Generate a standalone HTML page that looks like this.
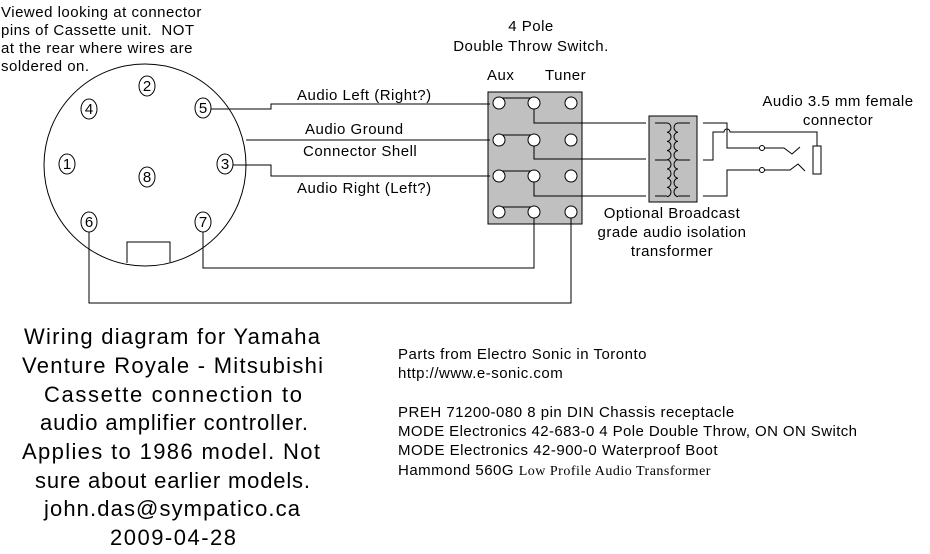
<!DOCTYPE html>
<html><head><meta charset="utf-8"><style>
html,body{margin:0;padding:0;background:#fff;}
svg{display:block;font-family:"Liberation Sans",sans-serif;}
.s{font-size:15px;letter-spacing:0.5px;}
</style></head><body>
<svg width="930" height="554" viewBox="0 0 930 554" xmlns="http://www.w3.org/2000/svg">
<g class="s" fill="#000">
<text x="1" y="17">Viewed looking at connector</text>
<text x="1" y="35" xml:space="preserve">pins of Cassette unit.  NOT</text>
<text x="1" y="53">at the rear where wires are</text>
<text x="1" y="71">soldered on.</text>
<text x="531" y="31" text-anchor="middle">4 Pole</text>
<text x="531" y="51" text-anchor="middle">Double Throw Switch.</text>
<text x="487" y="80">Aux</text>
<text x="545" y="80">Tuner</text>
<text x="838" y="106" text-anchor="middle">Audio 3.5 mm female</text>
<text x="838" y="125" text-anchor="middle">connector</text>
<text x="297" y="100">Audio Left (Right?)</text>
<text x="305" y="134">Audio Ground</text>
<text x="303" y="156">Connector Shell</text>
<text x="297" y="193">Audio Right (Left?)</text>
<text x="672" y="218" text-anchor="middle">Optional Broadcast</text>
<text x="672" y="237" text-anchor="middle">grade audio isolation</text>
<text x="672" y="256" text-anchor="middle">transformer</text>
<text x="398" y="359">Parts from Electro Sonic in Toronto</text>
<text x="398" y="378">http://www.e-sonic.com</text>
<text x="398" y="417">PREH 71200-080 8 pin DIN Chassis receptacle</text>
<text x="398" y="436" textLength="459" style="letter-spacing:0">MODE Electronics 42-683-0 4 Pole Double Throw, ON ON Switch</text>
<text x="398" y="455">MODE Electronics 42-900-0 Waterproof Boot</text>
<text x="398" y="475">Hammond 560G <tspan font-family="Liberation Serif,serif" font-size="14">Low Profile Audio Transformer</tspan></text>
</g>
<g font-size="22" xml:space="preserve">
<text x="24" y="344" textLength="296">Wiring diagram for Yamaha</text>
<text x="22" y="373" textLength="301">Venture Royale - Mitsubishi</text>
<text x="44" y="402" textLength="258">Cassette connection to</text>
<text x="40" y="430" textLength="268">audio amplifier controller.</text>
<text x="22" y="459" textLength="298">Applies to 1986 model.  Not</text>
<text x="35" y="488" textLength="275">sure about earlier models.</text>
<text x="44" y="516" textLength="256">john.das@sympatico.ca</text>
<text x="110" y="545" textLength="126">2009-04-28</text>
</g>
<g fill="none" stroke="#000" stroke-width="1">
<circle cx="145" cy="165" r="101"/>
<path d="M127 263 V242 H170 V262"/>
</g>
<g fill="#fff" stroke="#000" stroke-width="1">
<ellipse cx="147" cy="86" rx="8" ry="10"/>
<ellipse cx="89" cy="109" rx="8" ry="10"/>
<ellipse cx="203" cy="108" rx="8" ry="10"/>
<ellipse cx="67" cy="164" rx="8" ry="10"/>
<ellipse cx="147" cy="177" rx="8" ry="10"/>
<ellipse cx="225" cy="164" rx="8" ry="10"/>
<ellipse cx="89" cy="222" rx="8" ry="10"/>
<ellipse cx="203" cy="222" rx="8" ry="10"/>
</g>
<g font-size="15" text-anchor="middle">
<text x="147" y="91">2</text><text x="89" y="114">4</text><text x="203" y="113">5</text>
<text x="67" y="169">1</text><text x="147" y="182">8</text><text x="225" y="169">3</text>
<text x="89" y="227">6</text><text x="203" y="227">7</text>
</g>
<rect x="488" y="92" width="94" height="132" fill="#c0c0c0" stroke="#000"/>
<g fill="none" stroke="#000">
<path d="M211 109 H271 V104 H490"/>
<path d="M246 140 H490"/>
<path d="M233 165 H271 V176 H490"/>
<path d="M499 98 H534 M499 135 H534 M499 171 H534 M499 207 H534"/>
<path d="M534 108 V123 H646"/>
<path d="M534 144 V159 H646"/>
<path d="M534 181 V196 H646"/>
<path d="M534 217 V268 H203 V232"/>
<path d="M571 217 V303 H89 V232"/>
</g>
<g fill="#fff" stroke="#000">
<circle cx="499" cy="103" r="6"/><circle cx="534" cy="103" r="6"/><circle cx="571" cy="103" r="6"/>
<circle cx="499" cy="140" r="6"/><circle cx="534" cy="140" r="6"/><circle cx="571" cy="140" r="6"/>
<circle cx="499" cy="176" r="6"/><circle cx="534" cy="176" r="6"/><circle cx="571" cy="176" r="6"/>
<circle cx="499" cy="212" r="6"/><circle cx="534" cy="212" r="6"/><circle cx="571" cy="212" r="6"/>
</g>
<rect x="649" y="116" width="48" height="86" fill="#c0c0c0" stroke="#000"/>
<g fill="none" stroke="#000">
<path d="M655 123 H667 M655 160 H667 M655 196 H667 M678 123 H690 M678 160 H690 M678 196 H690"/>
<path d="M667 123 a4 4.6 0 0 1 0 9.2 a4 4.6 0 0 1 0 9.2 a4 4.6 0 0 1 0 9.2 a4 4.6 0 0 1 0 9.2 a4 4.6 0 0 1 0 9.2 a4 4.6 0 0 1 0 9.2 a4 4.6 0 0 1 0 9.2 a4 4.6 0 0 1 0 9.2"/>
<path d="M678 123 a4 4.6 0 0 0 0 9.2 a4 4.6 0 0 0 0 9.2 a4 4.6 0 0 0 0 9.2 a4 4.6 0 0 0 0 9.2 a4 4.6 0 0 0 0 9.2 a4 4.6 0 0 0 0 9.2 a4 4.6 0 0 0 0 9.2 a4 4.6 0 0 0 0 9.2"/>
<path d="M703 123 H727 V148 H784 L792 154 L800 147"/>
<path d="M703 160 H713 V132 H724 a3 3 0 0 1 6 0 H817 V146"/>
<path d="M703 196 H727 V170 H790 L798 164 L805 171"/>
<rect x="813" y="146" width="8" height="28"/>
</g>
<g fill="#fff" stroke="#000"><circle cx="762" cy="148" r="2.5"/><circle cx="762" cy="170" r="2.5"/></g>
</svg>
</body></html>
